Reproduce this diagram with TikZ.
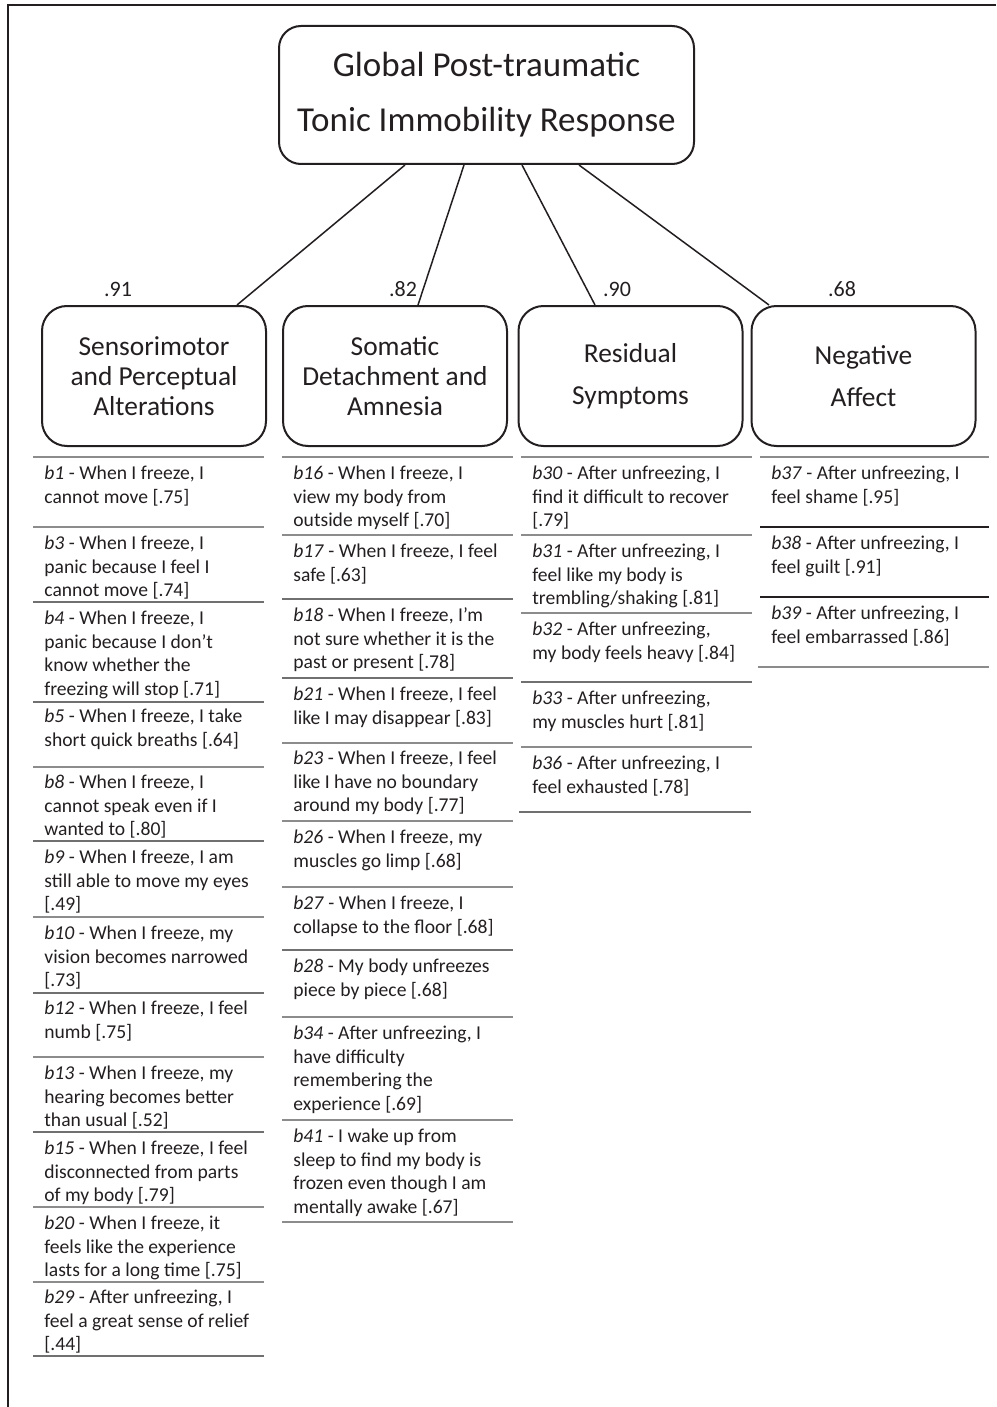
\documentclass[tikz,border=0pt]{standalone}
\usepackage{fontspec}
\setmainfont{Carlito}
\usetikzlibrary{calc}
\definecolor{ink}{HTML}{231F20}
\definecolor{sepgray}{HTML}{8C8C8D}
% #3 = baseline of the first line (in px)
\newcommand\myitem[4]{\node[itemtext] (#1) at (#2,#3-16.6) {\strut\textit{#1} - #4};}
\newcommand\hsep[4][septhick]{\draw[#1] (#2,#4) -- (#3,#4);}
\begin{document}
\begin{tikzpicture}[x=0.5pt,y=-0.5pt,
  every node/.style={text=ink},
  itemtext/.style={anchor=north west, inner sep=0pt, align=left, font=\fontsize{9.8}{11.85}\selectfont},
  titlebox/.style={draw=ink, line width=1pt, rounded corners=11pt, minimum width=207.5pt, minimum height=69pt, align=center, inner sep=0pt, font=\fontsize{17.5}{27.5}\selectfont},
  catbox/.style={draw=ink, line width=1pt, rounded corners=12.5pt, minimum width=112pt, minimum height=70pt, align=center, inner sep=0pt, font=\fontsize{13.7}{15}\selectfont},
  loadnum/.style={inner sep=0pt, font=\fontsize{11}{13}\selectfont},
  link/.style={draw=ink, line width=0.75pt},
  septhick/.style={draw=sepgray, line width=1pt},
  septhin/.style={draw=sepgray!80!black, line width=0.6pt},
  sepblack/.style={draw=ink, line width=1pt}]
\useasboundingbox (0,0) rectangle (996,1407);
% frame
\draw[ink, line width=1.2pt] (8,1407) -- (8,5) -- (996,5);
% title
\node[titlebox] (top) at (486.5,95) {Global Post-traumatic\\Tonic Immobility Response};
% category boxes
\node[catbox] (c1) at (154,376) {Sensorimotor\\and Perceptual\\Alterations};
\node[catbox] (c2) at (395,376) {Somatic\\Detachment and\\Amnesia};
\node[catbox] (c3) at (630.5,376) {Residual\\[6pt]Symptoms};
\node[catbox] (c4) at (863.5,376) {Negative\\[6pt]Affect};
% connectors
\draw[link] ([xshift=-40.75pt]top.south) -- ([xshift=41.5pt]c1.north);
\draw[link] ([xshift=-11.25pt]top.south) -- ([xshift=11.5pt]c2.north);
\draw[link] ([xshift=17.75pt]top.south) -- ([xshift=-17.75pt]c3.north);
\draw[link] ([xshift=46.25pt]top.south) -- ([xshift=-47.25pt]c4.north);
% loadings
\node[loadnum] (l1) at (118,289) {.91};
\node[loadnum] (l2) at (403,289) {.82};
\node[loadnum] (l3) at (617,289) {.90};
\node[loadnum] (l4) at (842,289) {.68};
% ---------- column 1 ----------
\hsep{33}{264}{457}
\hsep{33}{264}{527}
\hsep[septhin]{33}{264}{602}
\hsep[septhin]{33}{264}{702}
\hsep{33}{264}{767}
\hsep[septhin]{33}{264}{841}
\hsep{33}{264}{917}
\hsep[septhin]{33}{264}{993}
\hsep{33}{264}{1057}
\hsep[septhin]{33}{264}{1132}
\hsep{33}{264}{1207}
\hsep{33}{264}{1282}
\hsep[septhin]{33}{264}{1356}
\myitem{b1}{44}{479}{When I freeze, I\\cannot move [.75]}
\myitem{b3}{44}{549}{When I freeze, I\\panic because I feel I\\cannot move [.74]}
\myitem{b4}{44}{624}{When I freeze, I\\panic because I don’t\\know whether the\\freezing will stop [.71]}
\myitem{b5}{44}{722}{When I freeze, I take\\short quick breaths [.64]}
\myitem{b8}{44}{788}{When I freeze, I\\cannot speak even if I\\wanted to [.80]}
\myitem{b9}{44}{863}{When I freeze, I am\\still able to move my eyes\\{[.49]}}
\myitem{b10}{44}{939}{When I freeze, my\\vision becomes narrowed\\{[.73]}}
\myitem{b12}{44}{1014}{When I freeze, I feel\\numb [.75]}
\myitem{b13}{44}{1079}{When I freeze, my\\hearing becomes better\\than usual [.52]}
\myitem{b15}{44}{1154}{When I freeze, I feel\\disconnected from parts\\of my body [.79]}
\myitem{b20}{44}{1229}{When I freeze, it\\feels like the experience\\lasts for a long time [.75]}
\myitem{b29}{44}{1303}{After unfreezing, I\\feel a great sense of relief\\{[.44]}}
% ---------- column 2 ----------
\hsep{282}{513}{457}
\hsep{282}{513}{535}
\hsep[septhin]{282}{513}{599}
\hsep[septhin]{282}{513}{678}
\hsep{282}{513}{743}
\hsep{282}{513}{821}
\hsep{282}{513}{887}
\hsep[septhin]{282}{513}{950}
\hsep{282}{513}{1017}
\hsep{282}{513}{1120}
\hsep{282}{513}{1222}
\myitem{b16}{293}{479}{When I freeze, I\\view my body from\\outside myself [.70]}
\myitem{b17}{293}{557}{When I freeze, I feel\\safe [.63]}
\myitem{b18}{293}{621}{When I freeze, I’m\\not sure whether it is the\\past or present [.78]}
\myitem{b21}{293}{700}{When I freeze, I feel\\like I may disappear [.83]}
\myitem{b23}{293}{764}{When I freeze, I feel\\like I have no boundary\\around my body [.77]}
\myitem{b26}{293}{843}{When I freeze, my\\muscles go limp [.68]}
\myitem{b27}{293}{909}{When I freeze, I\\collapse to the floor [.68]}
\myitem{b28}{293}{972}{My body unfreezes\\piece by piece [.68]}
\myitem{b34}{293}{1039}{After unfreezing, I\\have difficulty\\remembering the\\experience [.69]}
\myitem{b41}{293}{1142}{I wake up from\\sleep to find my body is\\frozen even though I am\\mentally awake [.67]}
% ---------- column 3 ----------
\hsep{521}{752}{457}
\hsep{521}{752}{535}
\hsep{521}{752}{613}
\hsep[septhin]{521}{752}{682}
\hsep{521}{752}{747}
\hsep[septhin]{519}{751}{812}
\myitem{b30}{532}{479}{After unfreezing, I\\find it difficult to recover\\{[.79]}}
\myitem{b31}{532}{557}{After unfreezing, I\\feel like my body is\\trembling/shaking [.81]}
\myitem{b32}{532}{635}{After unfreezing,\\my body feels heavy [.84]}
\myitem{b33}{532}{704}{After unfreezing,\\my muscles hurt [.81]}
\myitem{b36}{532}{769}{After unfreezing, I\\feel exhausted [.78]}
% ---------- column 4 ----------
\hsep{760}{989}{457}
\hsep[sepblack]{760}{989}{527}
\hsep[sepblack]{760}{989}{597}
\hsep{758}{989}{667}
\myitem{b37}{771}{479}{After unfreezing, I\\feel shame [.95]}
\myitem{b38}{771}{549}{After unfreezing, I\\feel guilt [.91]}
\myitem{b39}{771}{619}{After unfreezing, I\\feel embarrassed [.86]}
\end{tikzpicture}
\end{document}
